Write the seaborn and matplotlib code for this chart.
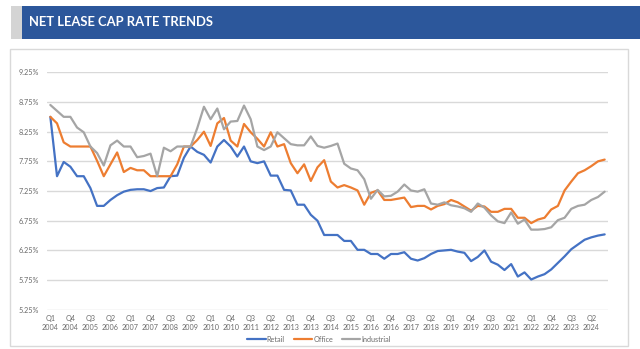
import matplotlib
matplotlib.use("Agg")
import matplotlib.pyplot as plt
from matplotlib.patches import Rectangle
from matplotlib.lines import Line2D
import seaborn as sns
import pandas as pd

# Quarterly cap rates (%), Q1 2004 through Q4 2024
retail = [
    8.50, 7.50, 7.74, 7.66, 7.50, 7.50, 7.30, 7.00, 7.00, 7.10, 7.18, 7.24,
    7.27, 7.28, 7.28, 7.25, 7.30, 7.31, 7.50, 7.51, 7.81, 8.00, 7.91, 7.86,
    7.73, 8.00, 8.11, 8.00, 7.83, 8.00, 7.75, 7.72, 7.75, 7.51, 7.51, 7.27,
    7.26, 7.02, 7.02, 6.85, 6.75, 6.51, 6.51, 6.51, 6.41, 6.41, 6.26, 6.26,
    6.19, 6.19, 6.11, 6.19, 6.19, 6.22, 6.11, 6.08, 6.12, 6.19, 6.24, 6.25,
    6.26, 6.23, 6.21, 6.07, 6.14, 6.25, 6.06, 6.01, 5.92, 6.02, 5.81, 5.88,
    5.76, 5.81, 5.85, 5.93, 6.04, 6.15, 6.27, 6.35, 6.43, 6.47, 6.50, 6.52,
]
office = [
    8.50, 8.39, 8.07, 8.00, 8.00, 8.00, 8.00, 7.76, 7.50, 7.70, 7.90, 7.57,
    7.64, 7.60, 7.60, 7.50, 7.50, 7.50, 7.50, 7.70, 8.00, 8.00, 8.11, 8.25,
    8.01, 8.39, 8.48, 8.10, 8.00, 8.38, 8.24, 8.13, 8.00, 8.24, 8.00, 8.04,
    7.72, 7.55, 7.70, 7.42, 7.65, 7.77, 7.41, 7.31, 7.35, 7.31, 7.26, 7.02,
    7.22, 7.26, 7.10, 7.10, 7.12, 7.14, 6.98, 7.00, 7.00, 6.94, 7.00, 7.03,
    7.10, 7.06, 6.99, 6.92, 7.00, 6.99, 6.90, 6.90, 6.95, 6.95, 6.80, 6.80,
    6.71, 6.77, 6.80, 6.94, 7.00, 7.26, 7.41, 7.55, 7.60, 7.67, 7.75, 7.78,
]
industrial = [
    8.70, 8.60, 8.50, 8.50, 8.32, 8.24, 8.00, 7.89, 7.68, 8.02, 8.10, 8.00,
    8.00, 7.82, 7.84, 7.88, 7.50, 7.98, 7.92, 8.00, 8.00, 8.00, 8.31, 8.67,
    8.46, 8.64, 8.29, 8.42, 8.43, 8.69, 8.46, 8.00, 7.94, 8.00, 8.24, 8.14,
    8.04, 8.02, 8.02, 8.17, 8.01, 7.98, 8.01, 8.05, 7.71, 7.63, 7.60, 7.45,
    7.12, 7.27, 7.16, 7.17, 7.24, 7.36, 7.26, 7.24, 7.28, 7.04, 7.02, 7.06,
    7.01, 6.99, 6.96, 6.90, 7.04, 6.97, 6.84, 6.74, 6.71, 6.89, 6.70, 6.77,
    6.60, 6.60, 6.61, 6.64, 6.76, 6.80, 6.95, 7.00, 7.02, 7.10, 7.15, 7.24,
]
series_names = ["Retail", "Office", "Industrial"]
series_colors = ["#4472C4", "#ED7D31", "#A5A5A5"]
quarters = [f"Q{q}\n{y}" for y in range(2004, 2025) for q in range(1, 5)]
y_ticks = [5.25, 5.75, 6.25, 6.75, 7.25, 7.75, 8.25, 8.75, 9.25]

df = pd.DataFrame({
    "idx": list(range(len(quarters))) * 3,
    "rate": retail + office + industrial,
    "type": [n for n in series_names for _ in quarters],
})

sns.set_theme(style="white")
plt.rcParams["font.family"] = ["Lato", "DejaVu Sans"]

W, H = 640, 349
fig = plt.figure(figsize=(W / 100, H / 100), dpi=100)
fig.patch.set_facecolor("white")


def px_rect(x0, y0, x1, y1, **kw):
    """Rectangle in figure pixel coordinates measured from the top-left."""
    fig.patches.append(Rectangle((x0 / W, 1 - y1 / H), (x1 - x0) / W, (y1 - y0) / H,
                                 transform=fig.transFigure, figure=fig, **kw))


# Header band
px_rect(11, 6, 22, 39, facecolor="#d4d4d4", edgecolor="none")
px_rect(22, 6, 640, 39, facecolor="#2c579b", edgecolor="none")
fig.text(29 / W, 1 - 22.5 / H, "NET LEASE CAP RATE TRENDS", color="white",
         fontsize=9.4, fontweight="bold", va="center", ha="left")

# Chart panel border
px_rect(9.5, 49, 627.5, 345.5, facecolor="none", edgecolor="#d9d9d9", linewidth=1)

ax = fig.add_axes([47 / W, 1 - 309.8 / H, (608 - 47) / W, (309.8 - 72.3) / H])
sns.lineplot(data=df, x="idx", y="rate", hue="type", hue_order=series_names,
             palette=series_colors, linewidth=1.6, ax=ax, legend=False)

ax.set_xlim(-0.5, len(quarters) - 0.5)
ax.set_ylim(5.25, 9.25)
ax.set_yticks(y_ticks)
ax.set_yticklabels([f"{v:.2f}%" for v in y_ticks])
ax.set_xticks(range(0, len(quarters), 3))
ax.set_xticklabels(quarters[::3])
ax.tick_params(axis="both", length=0, labelsize=5.2, labelcolor="#6a6a6a")
ax.tick_params(axis="y", pad=6)
ax.tick_params(axis="x", pad=4)
ax.grid(axis="y", color="#d9d9d9", linewidth=1)
ax.set_axisbelow(True)
for s in ax.spines.values():
    s.set_visible(False)
ax.set_xlabel("")
ax.set_ylabel("")
ax.patch.set_alpha(0)

handles = [Line2D([], [], color=c, linewidth=1.6) for c in series_colors]
fig.legend(handles, series_names, loc="center", bbox_to_anchor=(319 / W, 1 - 339 / H),
           ncol=3, frameon=False, fontsize=5.2, labelcolor="#6a6a6a",
           handlelength=2.6, handletextpad=0.1, columnspacing=1.2)

fig.savefig("out.png", dpi=100, facecolor="white")
